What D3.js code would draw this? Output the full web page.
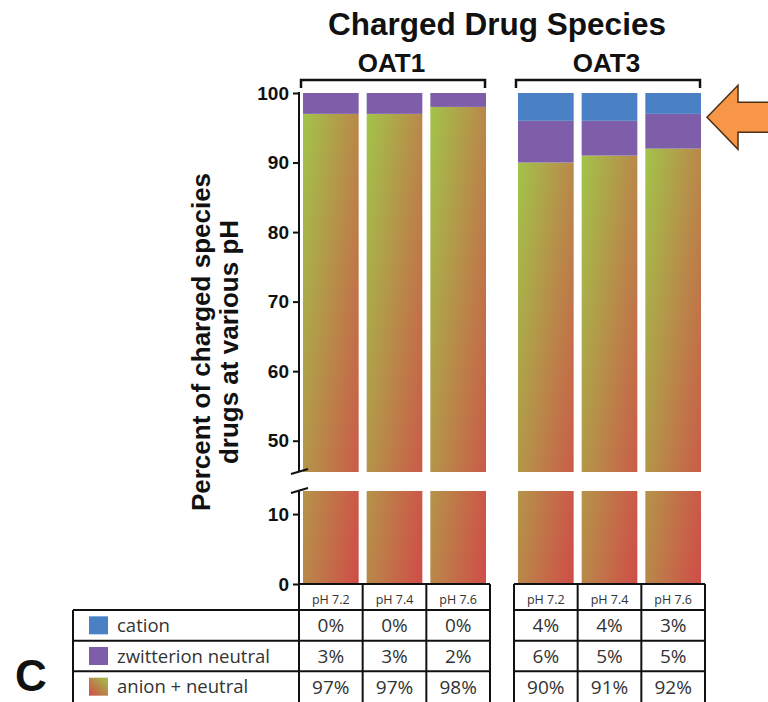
<!DOCTYPE html>
<html>
<head>
<meta charset="utf-8">
<script src="https://cdn.jsdelivr.net/npm/d3@7"></script>
<style>
  body { margin: 0; background: #fff; }
  svg { display: block; }
</style>
</head>
<body>
<svg id="chart" width="768" height="702"></svg>
<script>
// Data
const groups = ["OAT1", "OAT3"];
const phLabels = ["pH 7.2", "pH 7.4", "pH 7.6"];
const seriesNames = ["cation", "zwitterion neutral", "anion + neutral"];

const oat1Cation = [0, 0, 0];
const oat1Zwitterion = [3, 3, 2];
const oat1Anion = [97, 97, 98];
const oat3Cation = [4, 4, 3];
const oat3Zwitterion = [6, 5, 5];
const oat3Anion = [90, 91, 92];

const topTicks = [50, 60, 70, 80, 90, 100];
const bottomTicks = [0, 10];

const colors = { cation: "#4a80c4", zwitterion: "#7f5ea9" };

// rows used by the bars and the table
const rowsByGroup = {
    OAT1: { cation: oat1Cation, zwitterion: oat1Zwitterion, anion: oat1Anion },
    OAT3: { cation: oat3Cation, zwitterion: oat3Zwitterion, anion: oat3Anion }
};

const svg = d3.select("#chart");
const boldFont = "'Liberation Sans', Arial, sans-serif";
const tableFont = "'Open Sans', 'DejaVu Sans', sans-serif";

// Scales - broken y axis, two panels
const yTop = d3.scaleLinear().domain([45.5, 100]).range([472, 93]);
const yBot = d3.scaleLinear().domain([0, 13.3]).range([584, 491]);
const axisX = 299;

const xGroup = d3.scaleBand().domain(groups).range([299, 705]).paddingInner(0.1116);
const xPh = d3.scaleBand().domain(phLabels).range([0, xGroup.bandwidth()]);
const inset = 4;

// Gradient for anion + neutral
const defs = svg.append("defs");
const grad = defs.append("linearGradient").attr("id", "anionGrad")
    .attr("x1", 0).attr("y1", 0).attr("x2", 1).attr("y2", 1);
grad.append("stop").attr("offset", "0%").attr("stop-color", "#a2c44a");
grad.append("stop").attr("offset", "100%").attr("stop-color", "#d04c48");

const swatchGrad = defs.append("linearGradient").attr("id", "swatchGrad")
    .attr("x1", 0).attr("y1", 1).attr("x2", 1).attr("y2", 0);
swatchGrad.append("stop").attr("offset", "0%").attr("stop-color", "#d04c48");
swatchGrad.append("stop").attr("offset", "100%").attr("stop-color", "#9fc24a");

const clip = defs.append("clipPath").attr("id", "panels");
clip.append("rect").attr("x", axisX).attr("width", 420)
    .attr("y", yTop(100)).attr("height", yTop(45.5) - yTop(100));
clip.append("rect").attr("x", axisX).attr("width", 420)
    .attr("y", yBot(13.3)).attr("height", yBot(0) - yBot(13.3));

// Title + group labels
svg.append("text").attr("x", 497).attr("y", 35)
    .attr("text-anchor", "middle").attr("font-family", boldFont)
    .attr("font-weight", "bold").attr("font-size", 31.5).attr("fill", "#111")
    .text("Charged Drug Species");

groups.forEach(g => {
    const x0 = xGroup(g), w = xGroup.bandwidth();
    svg.append("text").attr("x", x0 + w / 2 - 3).attr("y", 72)
        .attr("text-anchor", "middle").attr("font-family", boldFont)
        .attr("font-weight", "bold").attr("font-size", 26).attr("fill", "#111")
        .text(g);
    svg.append("path")
        .attr("d", `M${x0 + 2},88V80H${x0 + w - 5}V88`)
        .attr("fill", "none").attr("stroke", "#111").attr("stroke-width", 2.5);
});

// Bars
const barLayer = svg.append("g");
groups.forEach(g => {
    const r = rowsByGroup[g];
    phLabels.forEach((ph, i) => {
        const x = xGroup(g) + xPh(ph) + inset;
        const w = xPh.bandwidth() - inset * 2;
        const a = r.anion[i], z = r.zwitterion[i], c = r.cation[i];
        barLayer.append("rect").attr("clip-path", "url(#panels)")
            .attr("x", x).attr("width", w)
            .attr("y", yTop(a)).attr("height", yBot(0) - yTop(a))
            .attr("fill", "url(#anionGrad)");
        barLayer.append("rect").attr("x", x).attr("width", w)
            .attr("y", yTop(a + z)).attr("height", yTop(a) - yTop(a + z))
            .attr("fill", colors.zwitterion);
        if (c > 0) {
            barLayer.append("rect").attr("x", x).attr("width", w)
                .attr("y", yTop(a + z + c)).attr("height", yTop(a + z) - yTop(a + z + c))
                .attr("fill", colors.cation);
        }
    });
});

// Y axes
function styleAxis(sel) {
    sel.select(".domain").remove();
    sel.selectAll(".tick line").attr("stroke", "#111").attr("stroke-width", 2);
    sel.selectAll(".tick text").attr("font-family", boldFont).attr("font-weight", "bold")
        .attr("font-size", 19).attr("fill", "#111");
}
svg.append("g").attr("transform", `translate(${axisX},0)`)
    .call(d3.axisLeft(yTop).tickValues(topTicks).tickSize(6).tickPadding(4))
    .call(styleAxis);
svg.append("g").attr("transform", `translate(${axisX},0)`)
    .call(d3.axisLeft(yBot).tickValues(bottomTicks).tickSize(6).tickPadding(4))
    .call(styleAxis);

svg.append("line").attr("x1", axisX).attr("x2", axisX)
    .attr("y1", yTop(100) - 1).attr("y2", yTop(45.5))
    .attr("stroke", "#111").attr("stroke-width", 2);
svg.append("line").attr("x1", axisX).attr("x2", axisX)
    .attr("y1", yBot(13.3)).attr("y2", 702)
    .attr("stroke", "#111").attr("stroke-width", 2);
// break marks
[yTop(45.5), yBot(13.3)].forEach(y => {
    svg.append("line").attr("x1", axisX - 8).attr("x2", axisX + 9)
        .attr("y1", y + 2).attr("y2", y - 3)
        .attr("stroke", "#111").attr("stroke-width", 2);
});

// Y label
svg.append("text")
    .attr("transform", `translate(210,342) rotate(-90)`)
    .attr("text-anchor", "middle").attr("font-family", boldFont)
    .attr("font-weight", "bold").attr("font-size", 26).attr("fill", "#111")
    .text("Percent of charged species");
svg.append("text")
    .attr("transform", `translate(238,342) rotate(-90)`)
    .attr("text-anchor", "middle").attr("font-family", boldFont)
    .attr("font-weight", "bold").attr("font-size", 26).attr("fill", "#111")
    .text("drugs at various pH");

// Table
const yRow = d3.scaleBand().domain(seriesNames).range([610, 702]);
const tableTop = yBot(0);
const table = svg.append("g").attr("stroke", "#111").attr("stroke-width", 2);
const tableText = svg.append("g").attr("font-family", tableFont).attr("fill", "#333");

// label column
table.append("line").attr("x1", 73).attr("x2", 73).attr("y1", 610).attr("y2", 702);
seriesNames.forEach(s => {
    table.append("line").attr("x1", 73).attr("x2", axisX)
        .attr("y1", yRow(s)).attr("y2", yRow(s));
});
const swatchFill = ["#4a80c4", "#7f5ea9", "url(#swatchGrad)"];
seriesNames.forEach((s, k) => {
    const cy = yRow(s) + yRow.bandwidth() / 2;
    svg.append("rect").attr("x", 89).attr("y", cy - 9).attr("width", 19).attr("height", 18)
        .attr("fill", swatchFill[k]);
    tableText.append("text").attr("x", 117).attr("y", cy + 6.5)
        .attr("font-size", 18.5).text(s);
});

groups.forEach(g => {
    const x0 = xGroup(g), w = xGroup.bandwidth();
    const r = rowsByGroup[g];
    table.append("line").attr("x1", x0).attr("x2", x0 + w).attr("y1", tableTop).attr("y2", tableTop);
    seriesNames.forEach(s => {
        table.append("line").attr("x1", x0).attr("x2", x0 + w)
            .attr("y1", yRow(s)).attr("y2", yRow(s));
    });
    [0, 1, 2, 3].forEach(k => {
        const x = x0 + k * xPh.bandwidth();
        table.append("line").attr("x1", x).attr("x2", x).attr("y1", tableTop).attr("y2", 702);
    });
    const vals = [r.cation, r.zwitterion, r.anion];
    phLabels.forEach((ph, i) => {
        const cx = x0 + xPh(ph) + xPh.bandwidth() / 2;
        tableText.append("text").attr("x", cx).attr("y", 604)
            .attr("text-anchor", "middle").attr("font-size", 12.5).text(ph);
        seriesNames.forEach((s, k) => {
            tableText.append("text").attr("x", cx).attr("y", yRow(s) + yRow.bandwidth() / 2 + 7)
                .attr("text-anchor", "middle").attr("font-size", 19)
                .text(vals[k][i] + "%");
        });
    });
});

// Arrow pointing at OAT3 pH 7.6
const tipX = 707, tipY = yTop(96.5);
svg.append("path")
    .attr("d", `M${tipX},${tipY}l31,-32v17h40v30h-40v17z`)
    .attr("fill", "#f79646").attr("stroke", "#4a3018").attr("stroke-width", 1.5)
    .attr("stroke-linejoin", "miter");

// Panel letter
svg.append("text").attr("x", 15).attr("y", 691)
    .attr("font-family", boldFont).attr("font-weight", "bold")
    .attr("font-size", 44).attr("fill", "#111").text("C");
</script>
</body>
</html>
